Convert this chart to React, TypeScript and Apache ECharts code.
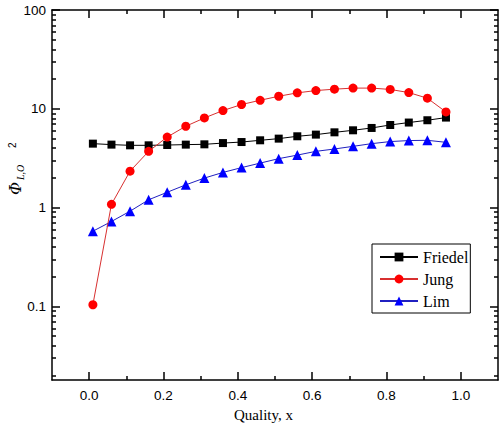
import React, { useEffect, useRef } from "react";
import * as echarts from "echarts";

const quality = [0.01, 0.06, 0.11, 0.16, 0.21, 0.26, 0.31, 0.36, 0.41, 0.46, 0.51, 0.56, 0.61, 0.66, 0.71, 0.76, 0.81, 0.86, 0.91, 0.96];
const friedel = [4.44, 4.34, 4.27, 4.27, 4.3, 4.34, 4.37, 4.5, 4.61, 4.8, 4.99, 5.27, 5.48, 5.78, 6.06, 6.4, 6.86, 7.26, 7.66, 8.15];
const jung = [0.104, 1.08, 2.34, 3.71, 5.18, 6.66, 8.08, 9.6, 11.05, 12.2, 13.4, 14.5, 15.3, 15.8, 16.2, 16.2, 15.7, 14.6, 12.8, 9.29];
const lim = [0.577, 0.724, 0.92, 1.2, 1.43, 1.7, 1.99, 2.27, 2.54, 2.82, 3.13, 3.4, 3.71, 3.92, 4.17, 4.44, 4.66, 4.77, 4.8, 4.58];

const seriesNames = ["Friedel", "Jung", "Lim"];
const xMajorTicks = [0, 0.2, 0.4, 0.6, 0.8, 1.0];
const xMinorTicks = [0.1, 0.3, 0.5, 0.7, 0.9];
const yMajorTicks = [0.1, 1, 10, 100];
const yMinorTicks = [
  0.02, 0.03, 0.04, 0.05, 0.06, 0.07, 0.08, 0.09,
  0.2, 0.3, 0.4, 0.5, 0.6, 0.7, 0.8, 0.9,
  2, 3, 4, 5, 6, 7, 8, 9,
  20, 30, 40, 50, 60, 70, 80, 90,
];

const X_MIN = -0.1;
const X_MAX = 1.1;
const Y_MIN = 0.018;
const Y_MAX = 100;

const LINE = { color: "#000", width: 1.5 };
const tickFont = { color: "#000", fontFamily: "Liberation Sans, Arial, sans-serif", fontSize: 13.5 };

function xAxis(position: string, ticks: number[], len: number, labels: boolean, line: boolean) {
  return {
    type: "value",
    position,
    min: X_MIN,
    max: X_MAX,
    axisLine: { show: line, onZero: false, lineStyle: LINE },
    axisTick: { show: true, inside: true, length: len, customValues: ticks, lineStyle: LINE },
    axisLabel: labels
      ? { show: true, customValues: ticks, formatter: (v: number) => v.toFixed(1), margin: 8, ...tickFont }
      : { show: false },
    splitLine: { show: false },
  };
}

function yAxis(position: string, ticks: number[], len: number, labels: boolean, line: boolean) {
  return {
    type: "log",
    logBase: 10,
    position,
    min: Y_MIN,
    max: Y_MAX,
    axisLine: { show: line, onZero: false, lineStyle: LINE },
    axisTick: { show: true, inside: true, length: len, customValues: ticks, lineStyle: LINE },
    axisLabel: labels
      ? { show: true, customValues: ticks, formatter: (v: number) => String(Number(v.toPrecision(3))), margin: 6, ...tickFont }
      : { show: false },
    splitLine: { show: false },
    minorTick: { show: false },
  };
}

export default function App() {
  const ref = useRef<HTMLDivElement>(null);
  useEffect(() => {
    if (!ref.current) return;
    const chart = echarts.init(ref.current, undefined, { renderer: "svg" });
    const pts = (arr: number[]) => quality.map((x, i) => [x, arr[i]]);
    chart.setOption({
      animation: false,
      backgroundColor: "#fff",
      grid: { left: 52, top: 10, width: 446, height: 370, containLabel: false },
      xAxis: [
        xAxis("bottom", xMajorTicks, 8, true, true),
        xAxis("bottom", xMinorTicks, 4, false, false),
        xAxis("top", xMajorTicks, 8, false, true),
        xAxis("top", xMinorTicks, 4, false, false),
      ],
      yAxis: [
        yAxis("left", yMajorTicks, 8, true, true),
        yAxis("left", yMinorTicks, 4, false, false),
        yAxis("right", yMajorTicks, 8, false, true),
        yAxis("right", yMinorTicks, 4, false, false),
      ],
      legend: {
        orient: "vertical",
        left: 372,
        top: 244,
        data: seriesNames,
        itemWidth: 38,
        itemHeight: 11,
        itemGap: 6,
        padding: [5, 2, 4, 7],
        borderColor: "#000",
        borderWidth: 1,
        backgroundColor: "#fff",
        textStyle: { color: "#000", fontFamily: "'Liberation Serif', 'Times New Roman', serif", fontSize: 16 },
      },
      series: [
        {
          name: seriesNames[0],
          type: "line",
          xAxisIndex: 0,
          yAxisIndex: 0,
          data: pts(friedel),
          symbol: "rect",
          symbolSize: 8,
          itemStyle: { color: "#000" },
          lineStyle: { color: "#000", width: 1 },
          z: 3,
        },
        {
          name: seriesNames[1],
          type: "line",
          xAxisIndex: 0,
          yAxisIndex: 0,
          data: pts(jung),
          symbol: "circle",
          symbolSize: 9,
          itemStyle: { color: "#ff0000" },
          lineStyle: { color: "#d83030", width: 1 },
          z: 4,
        },
        {
          name: seriesNames[2],
          type: "line",
          xAxisIndex: 0,
          yAxisIndex: 0,
          data: pts(lim),
          symbol: "triangle",
          symbolSize: 10,
          itemStyle: { color: "#0000ff" },
          lineStyle: { color: "#2020c0", width: 1 },
          z: 2,
        },
      ],
      graphic: [
        {
          type: "text",
          left: 234,
          top: 407,
          style: {
            text: "Quality, x",
            fill: "#000",
            font: "15px 'Liberation Serif', 'Times New Roman', serif",
          },
        },
        {
          type: "group",
          x: 15,
          y: 195,
          rotation: Math.PI / 2,
          children: [
            {
              type: "text",
              x: 0,
              y: 0,
              style: {
                text: "Φ",
                fill: "#000",
                font: "italic 16px 'DejaVu Serif', serif",
                verticalAlign: "middle",
                align: "left",
              },
            },
            {
              type: "text",
              x: 15,
              y: 5,
              style: {
                text: "L,O",
                fill: "#000",
                font: "italic 10px 'Liberation Serif', 'Times New Roman', serif",
                verticalAlign: "middle",
                align: "left",
              },
            },
            {
              type: "text",
              x: 47,
              y: -3,
              style: {
                text: "2",
                fill: "#000",
                font: "10px 'Liberation Sans', Arial, sans-serif",
                verticalAlign: "middle",
                align: "left",
              },
            },
          ],
        },
      ],
    });
    return () => chart.dispose();
  }, []);
  return <div ref={ref} style={{ position: "absolute", left: 0, top: 0, width: 502, height: 436 }} />;
}
